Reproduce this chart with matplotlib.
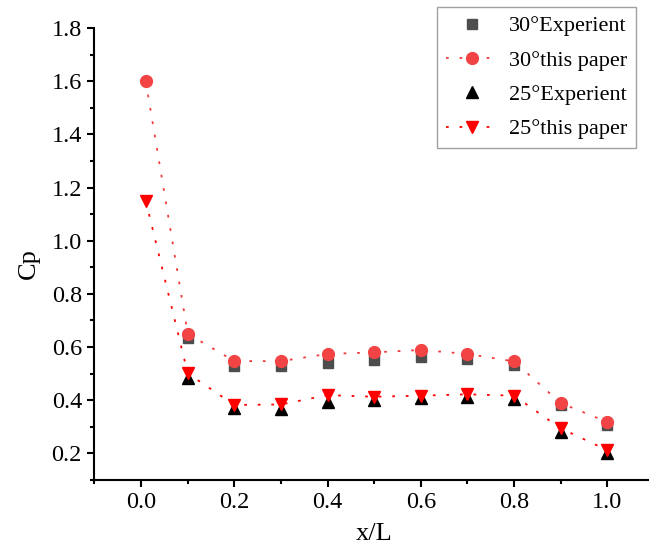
import matplotlib
matplotlib.use("Agg")
import matplotlib.pyplot as plt
from matplotlib.ticker import MultipleLocator

plt.rcParams['font.family'] = ['Liberation Serif', 'DejaVu Serif']

# pressure coefficient along the body, x/L stations
x_exp = [0.1, 0.2, 0.3, 0.4, 0.5, 0.6, 0.7, 0.8, 0.9, 1.0]
x_calc = [0.01, 0.1, 0.2, 0.3, 0.4, 0.5, 0.6, 0.7, 0.8, 0.9, 1.0]

cp30_exp = [0.633, 0.528, 0.528, 0.541, 0.551, 0.561, 0.554, 0.532, 0.381, 0.306]
cp30_calc = [1.60, 0.650, 0.547, 0.547, 0.574, 0.580, 0.589, 0.574, 0.546, 0.389, 0.318]
cp25_exp = [0.485, 0.369, 0.366, 0.394, 0.401, 0.409, 0.413, 0.403, 0.281, 0.200]
cp25_calc = [1.15, 0.501, 0.382, 0.384, 0.419, 0.413, 0.417, 0.422, 0.417, 0.294, 0.212]

fig = plt.figure(figsize=(6.49, 5.51), dpi=100)
ax = fig.add_axes([0.1456, 0.129, 0.862, 0.820])

dots = (0, (1.5, 6))
ax.plot(x_exp, cp30_exp, 's', color='#4d4d4d', markersize=7, label='30°Experient', zorder=3)
ax.plot(x_calc, cp30_calc, linestyle=dots, color='#f03c3c', lw=1.3, marker='o',
        markersize=8.5, markerfacecolor='#f24444', markeredgecolor='#f24444',
        label='30°this paper', zorder=4)
ax.plot(x_exp, cp25_exp, '^', color='black', markersize=8.5, label='25°Experient', zorder=3)
ax.plot(x_calc, cp25_calc, linestyle=dots, color='#ff0000', lw=1.3, marker='v',
        markersize=8.5, label='25°this paper', zorder=4)

ax.set_xlim(-0.1, 1.1)
ax.set_ylim(0.1, 1.8)
ax.xaxis.set_minor_locator(MultipleLocator(0.1))
ax.yaxis.set_minor_locator(MultipleLocator(0.1))
ax.set_xticks([0.0, 0.2, 0.4, 0.6, 0.8, 1.0])
ax.set_yticks([0.2, 0.4, 0.6, 0.8, 1.0, 1.2, 1.4, 1.6, 1.8])

for side in ['top', 'right']:
    ax.spines[side].set_visible(False)
for side in ['left', 'bottom']:
    ax.spines[side].set_linewidth(1.5)
ax.tick_params(which='major', direction='out', length=5, width=1.5, labelsize=17.5, pad=4)
ax.tick_params(which='minor', direction='out', length=3, width=1.5)

ax.set_xlabel('x/L', fontsize=19, labelpad=7)
ax.set_ylabel('Cp', fontsize=19, labelpad=4)
ax.yaxis.set_label_coords(-0.098, 0.478)

leg = ax.legend(loc='upper right', bbox_to_anchor=(636 / 649, 1 - 7 / 551),
                bbox_transform=fig.transFigure, borderaxespad=0, fontsize=16,
                fancybox=False, handlelength=2.4, handletextpad=0.45,
                labelspacing=0.62, borderpad=0.4)
leg.get_frame().set_edgecolor('#8a8a8a')
leg.get_frame().set_linewidth(1.0)

fig.savefig('out.png', dpi=100)
